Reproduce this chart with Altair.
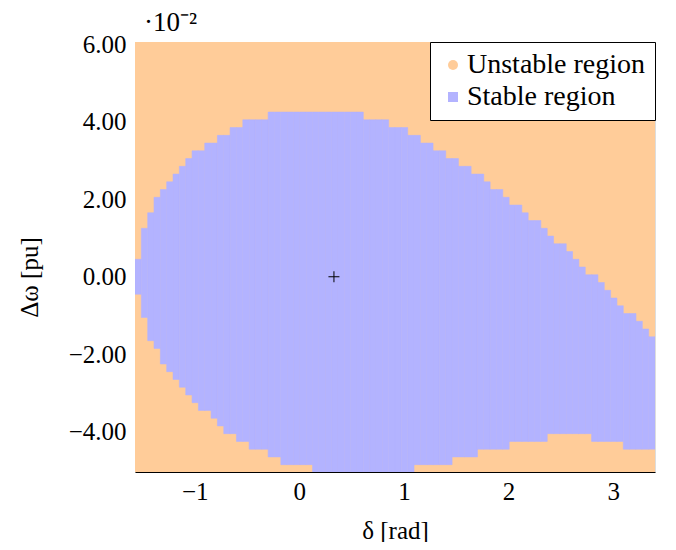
import altair as alt
import pandas as pd

# ---------------- data ----------------
x_domain = [-1.5708, 3.4]          # delta [rad]
y_domain = [-0.0504, 0.0606]       # delta omega [pu]
n_cols = 82                        # sampling columns along delta

# upper edge of the stable (blue) region in each delta column [pu]
col_top = [
    0.0045, 0.0125, 0.0165, 0.0205, 0.0225, 0.0245, 0.0265, 0.0285, 0.0305,
    0.0325, 0.0325, 0.0345, 0.0345, 0.0365, 0.0365, 0.0385, 0.0385,
    0.0405, 0.0405, 0.0405, 0.0405,
    0.0425, 0.0425, 0.0425, 0.0425, 0.0425, 0.0425, 0.0425, 0.0425,
    0.0425, 0.0425, 0.0425, 0.0425, 0.0425, 0.0425, 0.0425,
    0.0405, 0.0405, 0.0405, 0.0405,
    0.0385, 0.0385, 0.0385,
    0.0365, 0.0365, 0.0345, 0.0345, 0.0325, 0.0325, 0.0305, 0.0305,
    0.0285, 0.0285, 0.0265, 0.0265, 0.0245, 0.0225, 0.0225, 0.0205,
    0.0185, 0.0185, 0.0165, 0.0145, 0.0145, 0.0125, 0.0105, 0.0085, 0.0085,
    0.0065, 0.0045, 0.0025, 0.0005, 0.0005, -0.0015, -0.0035, -0.0055,
    -0.0075, -0.0095, -0.0095, -0.0115, -0.0135, -0.0155,
]

# lower edge of the stable (blue) region in each delta column [pu]
col_bottom = [
    -0.0045, -0.0105, -0.0165, -0.0185, -0.0225, -0.0245, -0.0265, -0.0285,
    -0.0305, -0.0325, -0.0345, -0.0345, -0.0365, -0.0385, -0.0405, -0.0405,
    -0.0425, -0.0425,
    -0.0445, -0.0445, -0.0445,
    -0.0465, -0.0465,
    -0.0485, -0.0485, -0.0485, -0.0485, -0.0485,
    -0.0505, -0.0505, -0.0505, -0.0505, -0.0505, -0.0505, -0.0505, -0.0505,
    -0.0505, -0.0505, -0.0505, -0.0505, -0.0505, -0.0505, -0.0505, -0.0505,
    -0.0485, -0.0485, -0.0485, -0.0485, -0.0485, -0.0485,
    -0.0465, -0.0465, -0.0465, -0.0465,
    -0.0445, -0.0445, -0.0445, -0.0445, -0.0445,
    -0.0425, -0.0425, -0.0425, -0.0425, -0.0425, -0.0425,
    -0.0405, -0.0405, -0.0405, -0.0405, -0.0405, -0.0405, -0.0405,
    -0.0425, -0.0425, -0.0425, -0.0425, -0.0425,
    -0.0445, -0.0445, -0.0445, -0.0445, -0.0445,
]

eq_delta = [0.331]      # equilibrium point
eq_domega = [0.0]

x_ticks = [-1, 0, 1, 2, 3]
y_ticks = [-0.04, -0.02, 0.0, 0.02, 0.04, 0.06]

regions = ["Unstable region", "Stable region"]
region_colors = ["#ffcc99", "#b3b3ff"]
region_shapes = ["circle", "square"]

FONT = "Liberation Serif"
FS = 25

# ---------------- tables ----------------
w = (x_domain[1] - x_domain[0]) / n_cols
stable = pd.DataFrame({
    "x": [x_domain[0] + k * w for k in range(n_cols)],
    "x2": [x_domain[0] + (k + 1) * w for k in range(n_cols)],
    "y": col_bottom,
    "y2": col_top,
})
unstable = pd.DataFrame({
    "x": [x_domain[0]], "x2": [x_domain[1]],
    "y": [y_domain[0]], "y2": [y_domain[1]],
})
eq = pd.DataFrame({"x": eq_delta, "y": eq_domega})
legend_tbl = pd.DataFrame({
    "region": regions, "x": eq_delta * 2, "y": eq_domega * 2,
})

legend = alt.Legend(
    title=None, orient="top-right", offset=0, padding=9,
    strokeColor="black", fillColor="white",
    symbolSize=100, symbolStrokeWidth=0, symbolOpacity=1,
    labelFont=FONT, labelFontSize=28, labelColor="black",
    labelLimit=400, labelOffset=0, rowPadding=4,
)

x_scale = alt.Scale(domain=x_domain, nice=False, zero=False)
y_scale = alt.Scale(domain=y_domain, nice=False, zero=False)

x_axis = alt.Axis(
    values=x_ticks, format="d", title="δ [rad]", grid=False, ticks=False,
    labelFont=FONT, labelFontSize=FS, labelColor="black", labelPadding=7,
    titleFont=FONT, titleFontSize=FS, titleFontWeight="normal", titleColor="black",
    titleX=260, titleY=58, titleBaseline="middle", titleAlign="center",
    domain=True, domainColor="black", domainWidth=1, zindex=1,
)
y_axis = alt.Axis(
    values=y_ticks, labelExpr="format(datum.value * 100, '.2f')",
    title="Δω [pu]", grid=False, ticks=False,
    labelFont=FONT, labelFontSize=FS, labelColor="black", labelPadding=9,
    titleFont=FONT, titleFontSize=FS, titleFontWeight="normal", titleColor="black",
    titleX=-106, titleY=235, titleAngle=-90, titleBaseline="middle", titleAlign="center",
    domain=False,
)

bg = alt.Chart(unstable).mark_rect(clip=True, color=region_colors[0]).encode(
    x=alt.X("x:Q", scale=x_scale, axis=x_axis),
    x2="x2:Q",
    y=alt.Y("y:Q", scale=y_scale, axis=y_axis),
    y2="y2:Q",
)

blue = alt.Chart(stable).mark_rect(
    clip=True, color=region_colors[1], stroke=region_colors[1], strokeWidth=0.6
).encode(x="x:Q", x2="x2:Q", y="y:Q", y2="y2:Q")

plus = alt.Chart(eq).mark_point(
    shape="M-1,0L1,0M0,-1L0,1", size=121, stroke="black",
    strokeWidth=1, filled=False, opacity=1,
).encode(x="x:Q", y="y:Q")

legend_layer = alt.Chart(legend_tbl).mark_point(filled=True, opacity=0).encode(
    x="x:Q", y="y:Q",
    color=alt.Color("region:N", scale=alt.Scale(domain=regions, range=region_colors), legend=legend),
    shape=alt.Shape("region:N", scale=alt.Scale(domain=regions, range=region_shapes), legend=legend),
)

chart = alt.layer(bg, blue, plus, legend_layer).properties(
    width=520, height=430,
    autosize=alt.AutoSizeParams(type="none"),
    padding={"left": 127, "top": 34, "right": 13, "bottom": 70},
    title=alt.TitleParams(
        "·10⁻²", anchor="start", frame="group", dx=9, dy=14, offset=9,
        font=FONT, fontSize=27, fontWeight="normal", color="black",
    ),
).configure_view(
    stroke="#666666", strokeDash=[1, 2], strokeWidth=1
).configure(background="white")

chart.save("out.html", embed_options={"renderer": "svg", "actions": False})
